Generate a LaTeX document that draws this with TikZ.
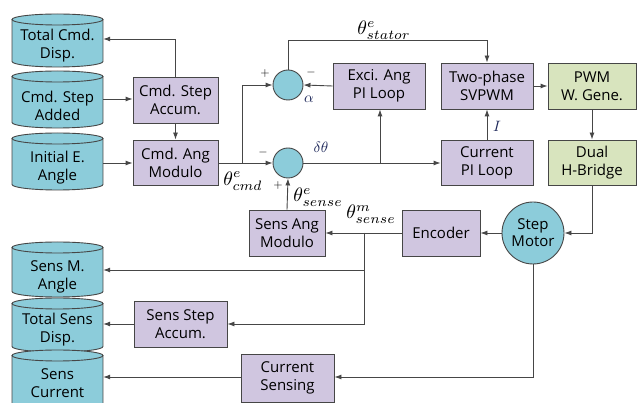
\documentclass[tikz,border=0pt]{standalone}
\usepackage{graphicx}
\usepackage{fontspec}
\setmainfont{Open Sans}
\usetikzlibrary{arrows.meta}
\definecolor{cylblue}{RGB}{140,204,218}
\definecolor{boxpurple}{RGB}{208,198,224}
\definecolor{boxgreen}{RGB}{216,228,190}
\definecolor{edge}{RGB}{70,70,70}
\definecolor{navy}{RGB}{30,40,90}
\newcommand\mlab[1]{\scalebox{1.95}{$#1$}}
\newcommand\nlab[1]{\scalebox{1.5}{$#1$}}
\newcommand\slab[1]{\scalebox{1.2}{$#1$}}
\tikzset{
  blk/.style={draw=edge, line width=0.9pt, fill=boxpurple, align=center, inner sep=0pt, font=\fontsize{15}{18}\selectfont},
  gblk/.style={blk, fill=boxgreen},
  sumc/.style={circle, draw=edge, line width=0.9pt, fill=cylblue, minimum size=30pt, inner sep=0pt},
  cyltext/.style={align=center, inner sep=0pt, minimum width=91pt, font=\fontsize{15}{18}\selectfont},
  wire/.style={draw=edge, line width=0.9pt},
  arr/.style={wire, -{Latex[length=7pt,width=5pt]}},
  lbl/.style={inner sep=0pt},
}
\newcommand\mycyl[5]{% name, top, bottom, textcenter, text
  \fill[cylblue] (12,#2+5.5) rectangle (103,#3-5.5);
  \fill[cylblue] (57.5,#3-5.5) ellipse [x radius=45.5, y radius=5.5];
  \draw[edge, line width=0.9pt] (12,#2+5.5) -- (12,#3-5.5) arc[start angle=180, end angle=0, x radius=45.5, y radius=5.5] -- (103,#2+5.5);
  \draw[edge, line width=0.9pt, fill=cylblue] (57.5,#2+5.5) ellipse [x radius=45.5, y radius=5.5];
  \node[cyltext, minimum height=#3-#2] (#1) at (57.5,#4) {#5};
}
\begin{document}
\begin{tikzpicture}[x=1pt,y=-1pt]
\useasboundingbox (0,0) rectangle (638,403);
\clip (0,0) rectangle (638,403);
\fill[white] (0,0) rectangle (638,403);

% cylinders
\mycyl{tcd}{14}{67}{46}{Total Cmd.\\Disp.}
\mycyl{csa}{71}{128}{106}{Cmd. Step\\Added}
\mycyl{iea}{133}{190}{168}{Initial E.\\Angle}
\mycyl{sma}{242}{297}{277}{Sens M.\\Angle}
\mycyl{tsd}{298}{352}{330}{Total Sens\\Disp.}
\mycyl{scur}{350}{420}{383}{Sens\\Current}

% blocks
\node[blk, minimum width=85pt, minimum height=46pt] (acc) at (175.5,100) {Cmd. Step\\Accum.};
\node[blk, minimum width=85pt, minimum height=45pt] (mod) at (175.5,162.5) {Cmd. Ang\\Modulo};
\node[blk, minimum width=92pt, minimum height=46pt] (exci) at (379,86) {Exci. Ang\\PI Loop};
\node[blk, minimum width=92pt, minimum height=46pt] (svp) at (487,86) {Two-phase\\SVPWM};
\node[blk, minimum width=92pt, minimum height=45pt] (cpi) at (487,162.5) {Current\\PI Loop};
\node[gblk, minimum width=88pt, minimum height=46pt] (pwm) at (592,86) {PWM\\W. Gene.};
\node[gblk, minimum width=88pt, minimum height=45pt] (hb) at (592,162.5) {Dual\\H-Bridge};
\node[blk, minimum width=76pt, minimum height=46pt] (sam) at (287,233) {Sens Ang\\Modulo};
\node[blk, minimum width=78pt, minimum height=46pt] (enc) at (441,233) {Encoder};
\node[sumc, minimum size=62pt, font=\fontsize{15}{17}\selectfont, align=center] (mot) at (533,233) {Step\\Motor};
\node[blk, minimum width=93pt, minimum height=46pt] (ssa) at (180.5,324) {Sens Step\\Accum.};
\node[blk, minimum width=93pt, minimum height=48pt] (csen) at (287.5,378) {Current\\Sensing};

% summing junctions
\node[sumc] (s1) at (288,85) {};
\node[sumc] (s2) at (288,163) {};

\coordinate (b1) at (242,163);
\coordinate (b2) at (380,163);
\coordinate (b3) at (364,233);

% connectors
\draw[arr] (acc.north) |- (tcd.east |- 0,39);
\draw[arr] (csa.east |- 0,99) -- (acc.west |- 0,99);
\draw[arr] (acc.south) -- (mod.north);
\draw[arr] (iea.east |- 0,163) -- (mod.west |- 0,163);
\draw[arr] (mod.east |- s2) -- (s2.west);
\draw[arr] (b1) |- (s1.west);
\draw[arr] (s1.north) |- (487,40) -- (svp.north);
\draw[arr] (exci.west) -- (s1.east);
\draw[arr] (s2.east) -- (cpi.west |- s2);
\draw[arr] (b2) -- (exci.south -| b2);
\draw[arr] (cpi.north) -- (svp.south);
\draw[arr] (svp.east) -- (pwm.west);
\draw[arr] (pwm.south) -- (hb.north);
\draw[arr] (hb.south) |- (mot.east);
\draw[arr] (mot.west) -- (enc.east);
\draw[arr] (enc.west) -- (sam.east);
\draw[arr] (sam.north) -- (s2.south);
\draw[arr] (b3) |- (sma.east |- 0,270);
\draw[arr] (b3) |- (ssa.east);
\draw[arr] (ssa.west) -- (tsd.east |- ssa.west);
\draw[arr] (mot.south) |- (csen.east |- 0,377);
\draw[arr] (csen.west |- 0,377) -- (scur.east |- 0,377);

% labels
\node[lbl] at (384,30) {\mlab{\theta^{e}_{stator}}};
\node[lbl] at (265,74) {\slab{+}};
\node[lbl] at (311,73) {\slab{-}};
\node[lbl, text=navy] at (309,99) {\nlab{\alpha}};
\node[lbl] at (263,153) {\slab{-}};
\node[lbl, text=navy] at (321,147) {\nlab{\delta\theta}};
\node[lbl] at (243,181) {\mlab{\theta^{e}_{cmd}}};
\node[lbl] at (278,186) {\slab{+}};
\node[lbl] at (318,197) {\mlab{\theta^{e}_{sense}}};
\node[lbl] at (371,214) {\mlab{\theta^{m}_{sense}}};
\node[lbl, text=navy] at (497,126) {\nlab{I}};
\end{tikzpicture}
\end{document}
